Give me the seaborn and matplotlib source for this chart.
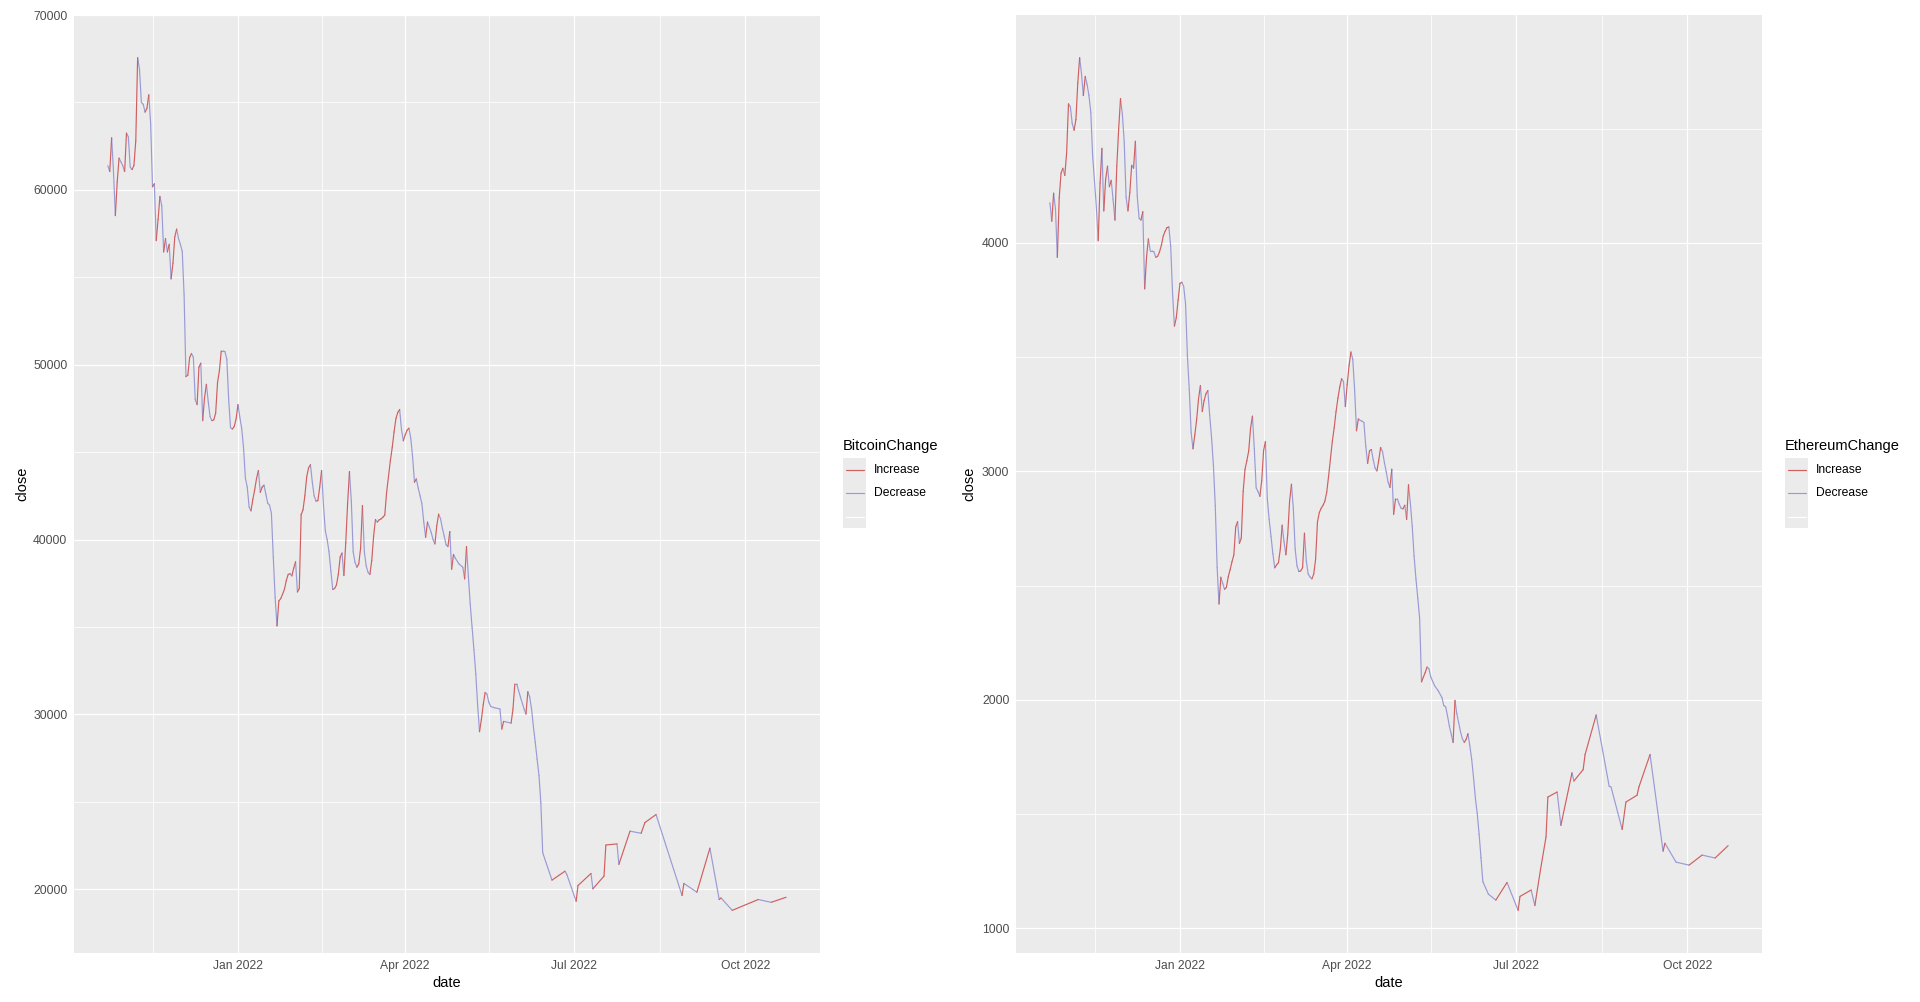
import numpy as np
import pandas as pd
import matplotlib
matplotlib.use("Agg")
import matplotlib.pyplot as plt
import matplotlib.dates as mdates
from matplotlib.lines import Line2D
from matplotlib.patches import Rectangle
import seaborn as sns

# ---------- data (day numbers counted from 2022-01-01, negative = late 2021) ----------
btc_day = [
    -70, -69, -68, -67, -66, -65, -64, -63, -62, -61, -60, -59, -58, -57, -56, -55, -54, -53, -52, -51,
    -50, -49, -48, -47, -46, -45, -44, -43, -42, -41, -40, -39, -38, -37, -36, -35, -34, -33, -32, -31,
    -30, -29, -28, -27, -26, -25, -24, -23, -22, -21, -20, -19, -18, -17, -16, -15, -14, -13, -12, -11,
    -10, -9, -8, -7, -6, -5, -4, -3, -2, -1, 0, 1, 2, 3, 4, 5, 6, 7, 8, 9,
    10, 11, 12, 13, 14, 15, 16, 17, 18, 19, 20, 21, 22, 23, 24, 25, 26, 27, 28, 29,
    30, 31, 32, 33, 34, 35, 36, 37, 38, 39, 40, 41, 42, 43, 44, 45, 46, 47, 48, 49,
    50, 51, 52, 53, 54, 55, 56, 57, 58, 59, 60, 61, 62, 63, 64, 65, 66, 67, 68, 69,
    70, 71, 72, 73, 74, 75, 76, 77, 78, 79, 80, 81, 82, 83, 84, 85, 86, 87, 88, 89,
    90, 91, 92, 93, 94, 95, 96, 97, 98, 99, 100, 101, 102, 103, 104, 105, 106, 107, 108, 109,
    110, 111, 112, 113, 114, 115, 116, 117, 119, 121, 122, 123, 124, 125, 126, 127, 128, 129, 130, 131,
    132, 133, 134, 135, 136, 138, 141, 142, 143, 147, 148, 149, 150, 152, 154, 155, 156, 157, 158, 159,
    160, 161, 162, 163, 164, 169, 176, 177, 182, 183, 190, 191, 197, 198, 204, 205, 211, 217, 219, 225,
    239, 240, 247, 254, 259, 260, 266, 280, 287, 295,
]
btc_close = [
    61380, 61050, 62980, 61050, 58530, 60450, 61820, 61600, 61380, 61050, 63250, 63030, 61300, 61160, 61400, 62810, 67566, 66900, 65000, 64900,
    64450, 64670, 65440, 63800, 60180, 60350, 57100, 58310, 59630, 59080, 56450, 57220, 56450, 56890, 54910, 55790, 57320, 57760, 57220, 56890,
    56490, 54000, 49320, 49400, 50420, 50640, 50420, 48000, 47720, 49870, 50090, 46800, 48110, 48880, 47890, 47020, 46800, 46850, 47240, 48990,
    49650, 50790, 50790, 50750, 50310, 48000, 46400, 46320, 46470, 46910, 47720, 47000, 46360, 45260, 43510, 43000, 41860, 41640, 42300, 42850,
    43500, 43950, 42700, 43000, 43110, 42600, 42080, 41970, 41500, 39000, 36700, 35060, 36490, 36620, 36870, 37150, 37650, 38000, 38050, 37920,
    38360, 38730, 37000, 37200, 41420, 41700, 42500, 43600, 44100, 44280, 43290, 42500, 42200, 42230, 43000, 43950, 42000, 40500, 40000, 39300,
    38200, 37150, 37200, 37400, 38000, 39000, 39230, 37940, 39800, 42040, 43890, 42200, 39300, 38700, 38420, 38600, 39500, 41950, 39300, 38500,
    38130, 38000, 38800, 40200, 41150, 41000, 41130, 41180, 41280, 41400, 42700, 43600, 44500, 45250, 46150, 46910, 47270, 47440, 46300, 45650,
    45990, 46250, 46370, 45800, 44700, 43280, 43470, 42950, 42500, 42040, 41000, 40130, 41000, 40720, 40400, 40000, 39750, 40800, 41450, 41200,
    40650, 40200, 39700, 39600, 40460, 38300, 39150, 38930, 38600, 38420, 37750, 39600, 37900, 36300, 34980, 33700, 32300, 30500, 29010, 29700,
    30550, 31250, 31160, 30700, 30460, 30380, 30310, 29160, 29600, 29500, 30300, 31740, 31740, 31000, 30300, 30020, 31300, 31000, 30300, 29300,
    28400, 27440, 26500, 24960, 22090, 20520, 21030, 20840, 19310, 20210, 20900, 20020, 20750, 22530, 22590, 21420, 23320, 23200, 23810, 24270,
    19640, 20330, 19830, 22350, 19410, 19500, 18790, 19410, 19250, 19540,
]

eth_day = [
    -70, -69, -68, -67, -66, -65, -64, -63, -62, -61, -60, -59, -58, -57, -56, -55, -54, -53, -52, -51,
    -50, -49, -48, -47, -46, -45, -44, -43, -42, -41, -40, -39, -38, -37, -36, -35, -34, -33, -32, -31,
    -30, -29, -28, -27, -26, -25, -24, -23, -22, -21, -20, -19, -18, -17, -16, -15, -14, -13, -12, -11,
    -10, -9, -8, -7, -6, -5, -4, -3, -2, -1, 0, 1, 2, 3, 4, 5, 6, 7, 8, 9,
    10, 11, 12, 13, 14, 15, 16, 17, 18, 19, 20, 21, 22, 23, 24, 25, 26, 27, 28, 29,
    30, 31, 32, 33, 34, 35, 36, 37, 38, 39, 40, 41, 42, 43, 44, 45, 46, 47, 48, 49,
    50, 51, 52, 53, 54, 55, 56, 57, 58, 59, 60, 61, 62, 63, 64, 65, 66, 67, 68, 69,
    70, 71, 72, 73, 74, 75, 76, 77, 78, 79, 80, 81, 82, 83, 84, 85, 86, 87, 88, 89,
    90, 91, 92, 93, 94, 95, 96, 97, 98, 99, 100, 101, 102, 103, 104, 105, 106, 107, 108, 109,
    110, 111, 112, 113, 114, 115, 116, 117, 118, 119, 120, 121, 122, 123, 124, 125, 126, 127, 128, 129,
    130, 131, 132, 133, 134, 135, 137, 139, 141, 142, 143, 144, 145, 146, 147, 148, 149, 150, 151, 152,
    153, 154, 155, 156, 157, 158, 159, 160, 161, 162, 163, 166, 170, 176, 182, 183, 189, 191, 194, 197,
    198, 203, 205, 211, 212, 217, 218, 224, 231, 232, 238, 240, 246, 247, 253, 260, 261, 267, 274, 281,
    288, 295,
]
eth_close = [
    4176, 4095, 4218, 4148, 3937, 4197, 4306, 4327, 4295, 4393, 4609, 4596, 4523, 4493, 4540, 4700, 4811, 4740, 4645, 4729,
    4694, 4645, 4572, 4380, 4270, 4157, 4010, 4262, 4414, 4140, 4279, 4336, 4246, 4274, 4189, 4100, 4336, 4498, 4632, 4563,
    4441, 4200, 4140, 4220, 4340, 4327, 4445, 4205, 4108, 4100, 4137, 3799, 3937, 4018, 3965, 3965, 3961, 3937, 3942, 3961,
    3990, 4030, 4051, 4067, 4070, 3986, 3782, 3636, 3672, 3750, 3823, 3828, 3810, 3734, 3506, 3359, 3172, 3099, 3160, 3229,
    3319, 3376, 3262, 3311, 3340, 3354, 3245, 3148, 3026, 2850, 2580, 2420, 2537, 2510, 2484, 2493, 2540, 2570, 2605, 2635,
    2757, 2780, 2685, 2708, 2912, 3009, 3047, 3090, 3190, 3242, 3100, 2928, 2912, 2891, 2960, 3091, 3131, 2880, 2790, 2716,
    2640, 2578, 2591, 2600, 2660, 2765, 2692, 2635, 2724, 2870, 2944, 2839, 2660, 2586, 2562, 2565, 2579, 2730, 2608, 2551,
    2538, 2530, 2551, 2616, 2779, 2820, 2839, 2852, 2870, 2910, 2980, 3056, 3132, 3191, 3262, 3320, 3370, 3406, 3393, 3284,
    3381, 3463, 3523, 3490, 3357, 3178, 3230, 3223, 3220, 3214, 3110, 3035, 3090, 3096, 3051, 3015, 3002, 3050, 3105, 3088,
    3040, 2999, 2953, 2930, 3010, 2812, 2880, 2880, 2857, 2839, 2836, 2852, 2790, 2942, 2860, 2760, 2630, 2530, 2445, 2356,
    2079, 2100, 2120, 2144, 2136, 2100, 2063, 2040, 2010, 1975, 1970, 1930, 1885, 1850, 1814, 1998, 1940, 1900, 1860, 1830,
    1814, 1827, 1852, 1800, 1740, 1660, 1570, 1502, 1412, 1310, 1205, 1150, 1124, 1201, 1079, 1140, 1168, 1100, 1255, 1400,
    1575, 1597, 1451, 1681, 1645, 1695, 1760, 1934, 1622, 1619, 1433, 1553, 1583, 1619, 1761, 1338, 1373, 1290, 1277, 1321,
    1308, 1362,
]

base_date = "2022-01-01"
x_major = ["2022-01-01", "2022-04-01", "2022-07-01", "2022-10-01"]
x_labels = ["Jan 2022", "Apr 2022", "Jul 2022", "Oct 2022"]
x_minor = ["2021-11-16", "2022-02-15", "2022-05-16", "2022-08-16"]
btc_yticks = [20000, 30000, 40000, 50000, 60000, 70000]
btc_yminor = [25000, 35000, 45000, 55000, 65000]
eth_yticks = [1000, 2000, 3000, 4000]
eth_yminor = [1500, 2500, 3500, 4500]

change_colors = {"Increase": "#D05F5F", "Decrease": "#9A9AD6"}

W, H = 1920, 1002


def fx(px):
    return px / W


def fy(px):
    return 1 - px / H


# ---------- helpers ----------
def make_segments(day, close):
    dates = pd.Timestamp(base_date) + pd.to_timedelta(day, unit="D")
    rows = []
    for i in range(len(close) - 1):
        ch = "Increase" if close[i + 1] > close[i] else "Decrease"
        rows.append((dates[i], close[i], i, ch))
        rows.append((dates[i + 1], close[i + 1], i, ch))
    return pd.DataFrame(rows, columns=["date", "close", "seg", "change"]), dates


def draw_panel(ax, day, close, yticks, yminor):
    seg_df, dates = make_segments(day, close)
    sns.lineplot(data=seg_df, x="date", y="close", hue="change", units="seg",
                 estimator=None, palette=change_colors, linewidth=0.85,
                 legend=False, ax=ax)
    ax.set_facecolor("#EBEBEB")
    for s in ax.spines.values():
        s.set_visible(False)
    ax.set_axisbelow(True)

    ax.set_xticks(mdates.date2num(pd.to_datetime(x_major)))
    ax.set_xticklabels(x_labels)
    ax.set_xticks(mdates.date2num(pd.to_datetime(x_minor)), minor=True)
    ax.set_yticks(yticks)
    ax.set_yticklabels([str(v) for v in yticks])
    ax.set_yticks(yminor, minor=True)

    ax.grid(which="major", color="white", linewidth=0.9)
    ax.grid(which="minor", color="white", linewidth=0.55)
    ax.tick_params(which="major", length=3.2, width=0.8, color="#333333",
                   labelcolor="#4D4D4D", labelsize=8.7, pad=1.6)
    ax.tick_params(which="minor", length=0)

    # ggplot-style 5% expansion
    x0, x1 = mdates.date2num(dates.min()), mdates.date2num(dates.max())
    ax.set_xlim(x0 - 0.05 * (x1 - x0), x1 + 0.05 * (x1 - x0))
    y0, y1 = min(close), max(close)
    ax.set_ylim(y0 - 0.05 * (y1 - y0), y1 + 0.05 * (y1 - y0))
    ax.set_xlabel("")
    ax.set_ylabel("")


def draw_legend(fig, left, title):
    fig.text(fx(left), fy(446), title, ha="left", va="center", fontsize=10.5, color="black")
    fig.add_artist(Rectangle((fx(left), fy(528)), 23 / W, 70 / H,
                             transform=fig.transFigure, facecolor="#EBEBEB", edgecolor="none"))
    keys = [("Increase", change_colors["Increase"], 470),
            ("Decrease", change_colors["Decrease"], 493),
            ("", "white", 516.5)]
    for label, col, ypx in keys:
        fig.add_artist(Line2D([fx(left + 3), fx(left + 21)], [fy(ypx), fy(ypx)],
                              transform=fig.transFigure, color=col, linewidth=0.85))
        if label:
            fig.text(fx(left + 31), fy(ypx), label, ha="left", va="center",
                     fontsize=8.7, color="black")


# ---------- figure ----------
sns.set_theme(style="darkgrid")
plt.rcParams["font.family"] = ["Liberation Sans", "DejaVu Sans"]

fig = plt.figure(figsize=(W / 100, H / 100), dpi=100, facecolor="white")
ax_btc = fig.add_axes([fx(74), fy(953), 746 / W, 938 / H])
ax_eth = fig.add_axes([fx(1016), fy(953), 746 / W, 938 / H])

draw_panel(ax_btc, btc_day, btc_close, btc_yticks, btc_yminor)
draw_panel(ax_eth, eth_day, eth_close, eth_yticks, eth_yminor)

for cx, lx in [(447, 22), (1389, 969)]:
    fig.text(fx(cx), fy(983), "date", ha="center", va="center", fontsize=10.5, color="black")
    fig.text(fx(lx), fy(484), "close", ha="center", va="center", rotation=90,
             fontsize=10.5, color="black")

draw_legend(fig, 843, "BitcoinChange")
draw_legend(fig, 1785, "EthereumChange")

fig.savefig("out.png", dpi=100, facecolor="white")
